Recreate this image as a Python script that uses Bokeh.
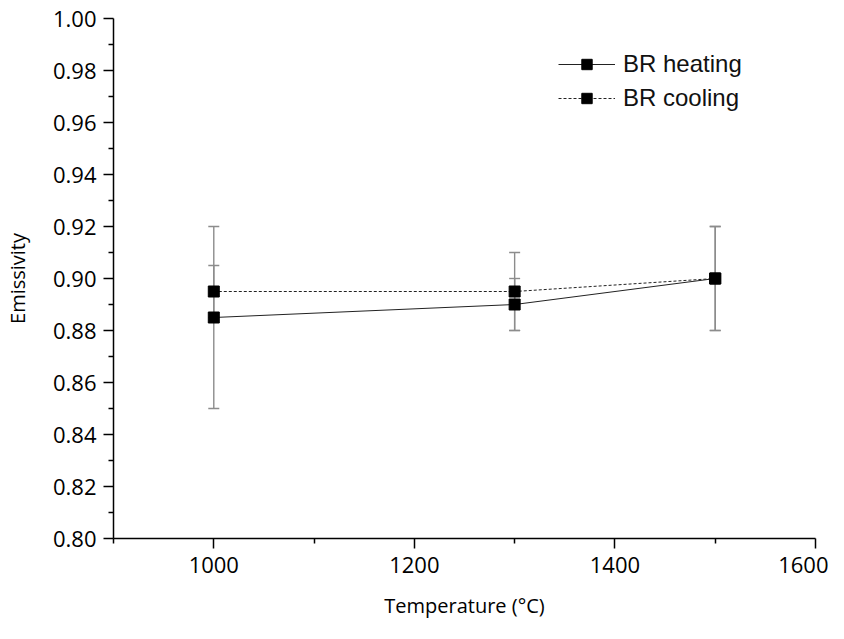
from bokeh.plotting import figure
from bokeh.models import ColumnDataSource, Whisker, Legend, LegendItem, FixedTicker, NumeralTickFormatter
from bokeh.embed import file_html
from bokeh.resources import INLINE

temps = [1000, 1300, 1500]
heat = [0.885, 0.890, 0.900]
heat_err = [0.035, 0.010, 0.020]
cool = [0.895, 0.895, 0.900]
cool_err = [0.010, 0.015, 0.020]
x_ticks = [1000, 1200, 1400, 1600]
x_minor = [900, 1100, 1300, 1500]
y_ticks = [0.80, 0.82, 0.84, 0.86, 0.88, 0.90, 0.92, 0.94, 0.96, 0.98, 1.00]
y_minor = [0.81, 0.83, 0.85, 0.87, 0.89, 0.91, 0.93, 0.95, 0.97, 0.99]

p = figure(width=828, height=623, output_backend="svg", toolbar_location=None,
           x_range=(900, 1600), y_range=(0.80, 1.00),
           min_border_left=113, min_border_right=13, min_border_top=18, min_border_bottom=85)
p.outline_line_color = None
p.grid.visible = False

hs = ColumnDataSource(dict(x=temps, y=heat, lo=[a - b for a, b in zip(heat, heat_err)],
                           hi=[a + b for a, b in zip(heat, heat_err)]))
cs = ColumnDataSource(dict(x=temps, y=cool, lo=[a - b for a, b in zip(cool, cool_err)],
                           hi=[a + b for a, b in zip(cool, cool_err)]))

for src in (hs, cs):
    w = Whisker(base="x", lower="lo", upper="hi", source=src, line_color="#8c8c8c", line_width=1.4)
    for head in (w.upper_head, w.lower_head):
        head.size = 11
        head.line_color = "#8c8c8c"
        head.line_width = 1.4
    p.add_layout(w)

hl = p.line("x", "y", source=hs, line_color="#222222", line_width=1)
cl = p.line("x", "y", source=cs, line_color="#222222", line_width=1, line_dash="3 2")
hm = p.scatter("x", "y", source=hs, marker="square", size=11, color="black")
cm = p.scatter("x", "y", source=cs, marker="square", size=11, color="black")

legend = Legend(items=[LegendItem(label="BR heating", renderers=[hl, hm]),
                       LegendItem(label="BR cooling", renderers=[cl, cm])],
                location=(445, 426), border_line_color=None, background_fill_alpha=0,
                label_text_font="Liberation Sans", label_text_font_size="24px",
                label_text_color="#111111",
                glyph_width=57, glyph_height=26, spacing=6, label_standoff=8)
p.add_layout(legend)

for ax in (p.xaxis[0], p.yaxis[0]):
    ax.axis_line_width = 1.5
    ax.major_tick_line_width = 1.5
    ax.minor_tick_line_width = 1.5
    ax.major_tick_out = 10
    ax.major_tick_in = 0
    ax.minor_tick_out = 5
    ax.minor_tick_in = 0
    ax.major_label_text_font = "Open Sans"
    ax.major_label_text_font_size = "22px"
    ax.major_label_text_color = "black"
    ax.axis_label_text_font = "Open Sans"
    ax.axis_label_text_font_size = "20px"
    ax.axis_label_text_font_style = "normal"
    ax.axis_label_text_color = "black"

p.xaxis.ticker = FixedTicker(ticks=x_ticks, minor_ticks=x_minor)
p.yaxis.ticker = FixedTicker(ticks=y_ticks, minor_ticks=y_minor)
p.yaxis.formatter = NumeralTickFormatter(format="0.00")
p.xaxis.axis_label = "Temperature (°C)"
p.yaxis.axis_label = "Emissivity"
p.xaxis.major_label_standoff = 8
p.xaxis.axis_label_standoff = 16
p.yaxis.major_label_standoff = 7
p.yaxis.axis_label_standoff = 19

open("out.html", "w").write(file_html(p, INLINE))
